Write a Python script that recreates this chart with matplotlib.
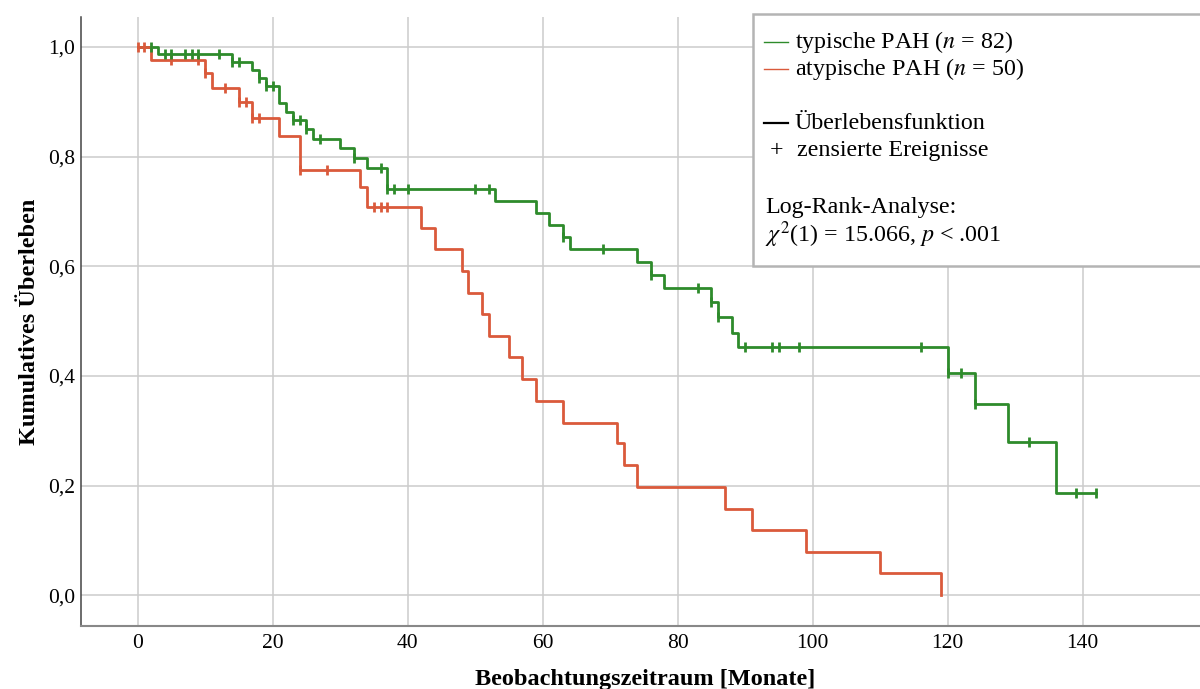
import numpy as np
import matplotlib
matplotlib.use('Agg')
import matplotlib.pyplot as plt
from matplotlib.patches import Rectangle
from matplotlib.lines import Line2D

plt.rcParams['font.family'] = ['Liberation Serif', 'DejaVu Serif']
plt.rcParams['mathtext.fontset'] = 'stix'

# ---------------- data ----------------
typ_times = [0, 3, 14, 17, 18, 19, 21, 22, 23, 25, 26, 30, 32, 34, 37, 53, 59, 61,
             63, 64, 74, 76, 78, 85, 86, 88, 89, 120, 124, 129, 136]
typ_surv = [1.0, 0.988, 0.972, 0.958, 0.943, 0.929, 0.897, 0.882, 0.867, 0.850,
            0.833, 0.815, 0.797, 0.780, 0.741, 0.720, 0.698, 0.675, 0.653, 0.631,
            0.607, 0.585, 0.561, 0.535, 0.507, 0.479, 0.452, 0.406, 0.349, 0.279, 0.186]
typ_end = 142
typ_cens = [2, 4, 5, 7, 8, 9, 12, 14, 15, 18, 19, 20, 23, 24, 25, 27, 32, 36, 37, 38,
            40, 50, 52, 63, 69, 76, 83, 85, 86, 90, 94, 95, 98, 116, 120, 122, 124,
            132, 139, 142]

atyp_times = [0, 2, 10, 11, 15, 17, 21, 24, 33, 34, 42, 44, 48, 49, 51, 52, 55, 57,
              59, 63, 71, 72, 74, 87, 91, 99, 110, 119]
atyp_surv = [1.0, 0.976, 0.952, 0.926, 0.900, 0.870, 0.838, 0.776, 0.745, 0.709,
             0.669, 0.631, 0.592, 0.552, 0.513, 0.473, 0.434, 0.394, 0.355, 0.315,
             0.277, 0.237, 0.197, 0.158, 0.119, 0.079, 0.040, 0.0]
atyp_end = 119
atyp_cens = [0, 1, 5, 9, 10, 13, 15, 16, 17, 18, 24, 28, 35, 36, 37]

x_ticks = [0, 20, 40, 60, 80, 100, 120, 140]
y_ticks = [0.0, 0.2, 0.4, 0.6, 0.8, 1.0]
y_tick_labels = ['0,0', '0,2', '0,4', '0,6', '0,8', '1,0']

GREEN = '#2e8b2b'
RED = '#da5a3b'

W, H = 1200, 689
fig = plt.figure(figsize=(W / 100, H / 100), dpi=100)
ax = fig.add_axes([81 / W, 1 - 626 / H, (W - 81) / W, (626 - 17) / H])


def step_xy(times, surv, end):
    x = list(times) + [end]
    y = list(surv) + [surv[-1]]
    return x, y


def cens_y(times, surv, cens):
    idx = np.searchsorted(np.array(times), np.array(cens), side='right') - 1
    return np.array(surv)[idx]


gx, gy = step_xy(typ_times, typ_surv, typ_end)
rx, ry = step_xy(atyp_times, atyp_surv, atyp_end)
ax.step(gx, gy, where='post', color=GREEN, lw=2.0, zorder=3)
ax.step(rx, ry, where='post', color=RED, lw=2.0, zorder=3)
ax.plot(atyp_cens, cens_y(atyp_times, atyp_surv, atyp_cens), ls='none', marker='|',
        ms=6.5, mew=2.0, color=RED, zorder=4)
ax.plot(typ_cens, cens_y(typ_times, typ_surv, typ_cens), ls='none', marker='|',
        ms=6.5, mew=2.0, color=GREEN, zorder=4)

ax.set_xlim(-8.4, 157.4)
ax.set_ylim(-0.056, 1.0547)
ax.set_xticks(x_ticks)
ax.set_yticks(y_ticks)
ax.set_yticklabels(y_tick_labels)
ax.tick_params(length=0, labelsize=15.5, colors='black')
ax.tick_params(axis='x', pad=6)
ax.tick_params(axis='y', pad=4)
ax.grid(True, color='#cccccc', lw=1.1)
ax.set_axisbelow(True)
for s in ['top', 'right']:
    ax.spines[s].set_visible(False)
ax.spines['left'].set_color('#444444')
ax.spines['left'].set_linewidth(1.1)
ax.spines['bottom'].set_color('#888888')
ax.spines['bottom'].set_linewidth(1.5)

ax.set_xlabel('Beobachtungszeitraum [Monate]', fontsize=17.5, fontweight='bold')
ax.set_ylabel('Kumulatives Überleben', fontsize=17.5, fontweight='bold')
ax.xaxis.set_label_coords(0.504, -0.071)
ax.yaxis.set_label_coords(-0.037, 0.5)

# ---------------- legend box ----------------
def fx(px):
    return px / W


def fy(py):
    return 1 - py / H


fig.patches.append(Rectangle((fx(753), fy(266)), fx(1215) - fx(753), fy(14) - fy(266),
                             transform=fig.transFigure, fill=True, facecolor='white',
                             edgecolor='#b4b4b4', lw=1.8, zorder=10))

fs = 17.3
lines = [
    (41.7, GREEN, 'typische PAH ($n$ = 82)'),
    (69.3, RED, 'atypische PAH ($n$ = 50)'),
]
for py, col, txt in lines:
    fig.lines.append(Line2D([fx(764), fx(788)], [fy(py), fy(py)], color=col, lw=1.0,
                            transform=fig.transFigure, zorder=11))
    fig.text(fx(795), fy(py), txt, fontsize=fs, va='center', ha='left', zorder=11)

fig.lines.append(Line2D([fx(764), fx(788)], [fy(123.3), fy(123.3)], color='black', lw=1.6,
                        transform=fig.transFigure, zorder=11))
fig.text(fx(795), fy(123.3), 'Überlebensfunktion', fontsize=fs, va='center', ha='left', zorder=11)
fig.text(fx(776.5), fy(150.7), '+', fontsize=fs, va='center', ha='center', zorder=11)
fig.text(fx(797), fy(150.7), 'zensierte Ereignisse', fontsize=fs, va='center', ha='left', zorder=11)
fig.text(fx(765), fy(207.3), 'Log-Rank-Analyse:', fontsize=fs, va='center', ha='left', zorder=11)
fig.text(fx(765), fy(235), r'$\chi^2$(1) = 15.066, $p$ < .001', fontsize=fs, va='center',
         ha='left', zorder=11)

fig.savefig('out.png', dpi=100)
